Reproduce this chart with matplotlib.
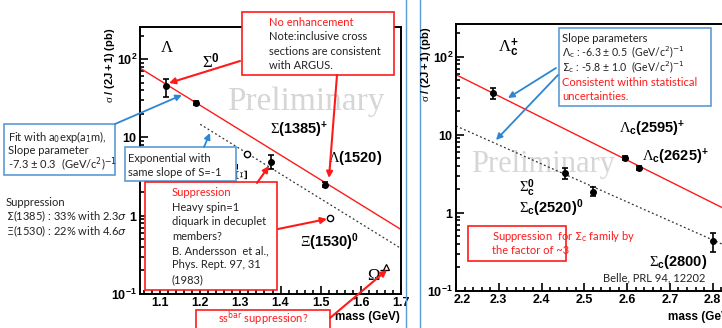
import numpy as np
import matplotlib
matplotlib.use('Agg')
import matplotlib.pyplot as plt
import matplotlib.transforms as mtransforms
from matplotlib.patches import Rectangle
from matplotlib.ticker import MultipleLocator, LogLocator, NullFormatter

plt.rcParams['mathtext.fontset'] = 'custom'
plt.rcParams['mathtext.rm'] = 'Liberation Serif'
plt.rcParams['mathtext.it'] = 'Liberation Serif:italic'
plt.rcParams['mathtext.bf'] = 'Liberation Sans:bold'
plt.rcParams['mathtext.sf'] = 'Liberation Sans'
plt.rcParams['font.family'] = ['Liberation Sans', 'DejaVu Sans']

# ---------------- data: hyperons (left panel) ----------------
hyp_filled_mass = [1.114, 1.190, 1.376, 1.511]          # Lambda, Sigma0, Sigma(1385)+, Lambda(1520)
hyp_filled_val = [45.0, 27.3, 4.9, 2.5]
hyp_filled_lo = [12.4, 1.5, 0.9, 0.2]
hyp_filled_hi = [10.0, 1.5, 1.0, 0.2]
hyp_open_mass = [1.317, 1.523]                           # Xi-, Xi(1530)0
hyp_open_val = [6.2, 0.94]
omega_mass = [1.663]
omega_val = [0.22]
hyp_fit = dict(m0=1.05, norm=76.7, slope=-7.3, mmin=1.05, mmax=1.70)
hyp_dot = dict(m0=1.20, norm=14.7, slope=-7.3, mmin=1.20, mmax=1.70)

# ---------------- data: charmed baryons (right panel) ----------------
lc_mass = [2.287, 2.596, 2.629]
lc_val = [34.5, 5.07, 3.78]
lc_lo = [5.5, 0.3, 0.25]
lc_hi = [5.5, 0.3, 0.25]
sc_mass = [2.455, 2.521, 2.800]
sc_val = [3.26, 1.86, 0.44]
sc_lo = [0.53, 0.21, 0.12]
sc_hi = [0.52, 0.29, 0.11]
lc_fit = dict(m0=2.2, norm=59.0, slope=-6.3, mmin=2.2, mmax=2.85)
sc_fit = dict(m0=2.2, norm=13.0, slope=-5.6, mmin=2.2, mmax=2.85)

left_xticks = [1.1, 1.2, 1.3, 1.4, 1.5, 1.6, 1.7]
right_xticks = [2.2, 2.3, 2.4, 2.5, 2.6, 2.7, 2.8]
yticks = [0.1, 1, 10, 100]
ytick_labels = [r'$\mathbf{10^{-1}}$', r'$\mathbf{1}$', r'$\mathbf{10}$', r'$\mathbf{10^{2}}$']

W, H = 722, 328
fig = plt.figure(figsize=(W / 100, H / 100), dpi=100)
fig.patch.set_facecolor('white')

def px_axes(x0, y0, x1, y1):
    return fig.add_axes([x0 / W, (H - y1) / H, (x1 - x0) / W, (y1 - y0) / H])

axL = px_axes(140, 27, 401, 294)
axR = px_axes(456, 24, 734, 291)
ov = fig.add_axes([0, 0, 1, 1], zorder=10)
ov.set_xlim(0, W)
ov.set_ylim(H, 0)
ov.axis('off')
ov.patch.set_alpha(0)

def style(ax, xlim, ylim, xt):
    ax.set_yscale('log')
    ax.set_xlim(*xlim)
    ax.set_ylim(*ylim)
    for s in ax.spines.values():
        s.set_linewidth(1.4)
    ax.set_xticks(xt)
    ax.set_xticklabels([f'{v:.1f}' for v in xt], fontweight='bold', fontsize=9)
    ax.xaxis.set_minor_locator(MultipleLocator(0.02))
    ax.set_yticks(yticks)
    ax.set_yticklabels(ytick_labels, fontsize=9)
    ax.yaxis.set_minor_locator(LogLocator(base=10, subs=np.arange(2, 10)))
    ax.yaxis.set_minor_formatter(NullFormatter())
    ax.tick_params(which='both', direction='in', top=False, right=False, width=1.2, pad=2)
    ax.tick_params(which='major', length=5.5)
    ax.tick_params(which='minor', length=2.8)

style(axL, (1.05, 1.70), (0.1, 10 ** 2.41), left_xticks)
style(axR, (2.2, 2.85), (0.1, 10 ** 2.42), right_xticks)

# the first x label of the right panel sits slightly right of its tick, as in the original
first = axR.get_xticklabels()[0]
first.set_transform(first.get_transform() + mtransforms.ScaledTranslation(6 / 100, 0, fig.dpi_scale_trans))

def fitline(ax, p, **kw):
    m = np.linspace(p['mmin'], p['mmax'], 100)
    ax.plot(m, p['norm'] * np.exp(p['slope'] * (m - p['m0'])), **kw)

RED = '#ff1a1a'
fitline(axL, hyp_fit, color=RED, lw=1.0, zorder=2)
fitline(axL, hyp_dot, color='#333333', lw=0.9, ls=(0, (1.5, 2)), zorder=2)
fitline(axR, lc_fit, color=RED, lw=1.0, zorder=2)
fitline(axR, sc_fit, color='#333333', lw=0.9, ls=(0, (1.5, 2)), zorder=2)

ekw = dict(fmt='o', color='black', ms=4, capsize=2, elinewidth=1.2, capthick=1.2, zorder=4)
axL.errorbar(hyp_filled_mass, hyp_filled_val, yerr=[hyp_filled_lo, hyp_filled_hi], **ekw)
axL.plot(hyp_open_mass, hyp_open_val, 'o', mfc='white', mec='black', ms=4.5, mew=1.0, zorder=4)
axL.plot(omega_mass, omega_val, '^', mfc='white', mec='black', ms=5, mew=0.9, zorder=4)
axR.errorbar(lc_mass, lc_val, yerr=[lc_lo, lc_hi], **ekw)
axR.errorbar(sc_mass, sc_val, yerr=[sc_lo, sc_hi], **ekw)

# Preliminary watermarks
axL.text(227, 110, 'Preliminary', transform=ov.transData, family='Liberation Serif',
         fontsize=24, color='#d6d6d6', va='baseline', ha='left', zorder=0.5)
axR.text(471, 172, 'Preliminary', transform=ov.transData, family='Liberation Serif',
         fontsize=22, color='#d6d6d6', va='baseline', ha='left', zorder=0.5)

# axis titles
ylab = r'$\mathrm{\sigma}\ \mathbf{/\ (2J+1)\ (pb)}$'
ov.text(110, 28, ylab, rotation=90, ha='center', va='top', fontsize=8)
ov.text(426, 27, ylab, rotation=90, ha='center', va='top', fontsize=8)
ov.text(400, 317, 'mass (GeV)', ha='right', va='center', fontsize=8.5, fontweight='bold')
ov.text(733, 317, 'mass (GeV)', ha='right', va='center', fontsize=8.5, fontweight='bold')

# particle labels
lab_kw = dict(ha='left', va='center', fontsize=10.5)
gk_kw = dict(ha='left', va='center', fontsize=12)
ov.text(160, 48, r'$\Lambda$', **gk_kw)
ov.text(202, 62, r'$\Sigma^{\mathbf{0}}$', **gk_kw)
ov.text(270, 130, r'$\Sigma\mathbf{(1385)^{+}}$', **lab_kw)
ov.text(328, 158, r'$\Lambda\mathbf{(1520)}$', **lab_kw)
ov.text(244, 171, r'$\Xi^{\mathbf{-}}$', rotation=90, ha='center', va='center', fontsize=11.5)
ov.text(300, 242, r'$\Xi\mathbf{(1530)^{0}}$', **lab_kw)
ov.text(367, 276, r'$\Omega^{\mathbf{-}}$', **gk_kw)
ov.text(498, 48, r'$\Lambda_{\mathbf{c}}^{\mathbf{+}}$', **gk_kw)
ov.text(619, 129, r'$\Lambda_{\mathbf{c}}\mathbf{(2595)^{+}}$', **lab_kw)
ov.text(642, 157, r'$\Lambda_{\mathbf{c}}\mathbf{(2625)^{+}}$', **lab_kw)
ov.text(519, 188, r'$\Sigma_{\mathbf{c}}^{\mathbf{0}}$', **lab_kw)
ov.text(519, 208, r'$\Sigma_{\mathbf{c}}\mathbf{(2520)^{0}}$', **lab_kw)
ov.text(649, 262, r'$\Sigma_{\mathbf{c}}\mathbf{(2800)}$', **lab_kw)
ov.text(603, 278, 'Belle, PRL 94, 12202', ha='left', va='center', fontsize=8,
        family='Lato', color='#222222')

# separators
BLUE = '#5b9bd5'
ov.plot([406, 406], [0, H], color=BLUE, lw=1.0)
ov.plot([420, 420], [0, H], color=BLUE, lw=1.0)

# boxes
def box(x0, y0, x1, y1, ec):
    ov.add_patch(Rectangle((x0, y0), x1 - x0, y1 - y0, facecolor='white', edgecolor=ec, lw=1.2, zorder=3))

box(242, 12, 394, 75, RED)
box(4, 124, 115, 175, BLUE)
box(125, 147, 236, 181, BLUE)
box(145, 182, 277, 290, RED)
box(196, 310, 330, 340, RED)
box(559, 28, 711, 106, BLUE)
box(468, 226, 566, 261, RED)

tkw = dict(ha='left', va='center', family='Lato', math_fontfamily='dejavusans', zorder=5)
def lines(x, y0, pitch, items, size=8):
    for i, (s, c) in enumerate(items):
        ov.text(x, y0 + i * pitch, s, color=c, fontsize=size, **tkw)

K = '#222222'
lines(269, 22.5, 14.3, [('No enhancement', RED), ('Note:inclusive cross', K),
                        ('sections are consistent', K), ('with ARGUS.', K)])
lines(8, 137, 13.5, [(r'Fit with a$_0$exp(a$_1$m),', K), ('Slope parameter', K),
                     (r'-7.3 ± 0.3  (GeV/c$^2$)$^{-1}$', K)])
lines(128, 158, 14.5, [('Exponential with', K), ('same slope of S=-1', K)])
lines(6, 202, 14.5, [('Suppression', K), (r'$\Sigma$(1385) : 33% with 2.3$\sigma$', K),
                     (r'$\Xi$(1530) : 22% with 4.6$\sigma$', K)])
lines(172, 193, 14.4, [('Suppression', RED), ('Heavy spin=1', K), ('diquark in decuplet', K),
                       ('members?', K), ('B. Andersson  et al.,', K), ('Phys. Rept. 97, 31', K),
                       ('(1983)', K)])
ov.text(263, 319, r'ss$^{\mathrm{bar}}$ suppression?', color=RED, ha='center', va='center',
        fontsize=8, family='Lato', math_fontfamily='dejavusans', zorder=5)
lines(562, 38, 14.6, [('Slope parameters', K)])
lines(562, 52.4, 15.0, [(r'$\Lambda_{\mathrm{c}}$ : -6.3 ± 0.5  (GeV/c$^2$)$^{-1}$', K),
                        (r'$\Sigma_{\mathrm{c}}$ : -5.8 ± 1.0  (GeV/c$^2$)$^{-1}$', K)], size=7.6)
lines(562, 82, 14.6, [('Consistent within statistical', RED), ('uncertainties.', RED)])
lines(492, 236, 15, [(r'Suppression  for $\Sigma_{\mathrm{c}}$ family by', RED),
                     ('the factor of ~3', RED)])

# arrows
def arrow(p0, p1, color, lw):
    ov.annotate('', xy=p1, xytext=p0,
                arrowprops=dict(arrowstyle='-|>', color=color, lw=lw, mutation_scale=9,
                                shrinkA=0, shrinkB=0), zorder=6)

arrow((240, 61), (169, 83), RED, 1.5)
arrow((337, 75), (329, 178), RED, 1.5)
arrow((257, 183), (269, 166), RED, 1.5)
arrow((278, 229), (327, 219), RED, 1.5)
arrow((330, 318), (387, 270), RED, 1.5)
ABL = '#2c86d4'
arrow((115, 124), (182, 95), ABL, 1.3)
arrow((204, 147), (210, 133), ABL, 1.3)
arrow((556, 68), (508, 98), ABL, 1.3)
arrow((558, 75), (496, 140), ABL, 1.3)

fig.savefig('out.png', dpi=100)
